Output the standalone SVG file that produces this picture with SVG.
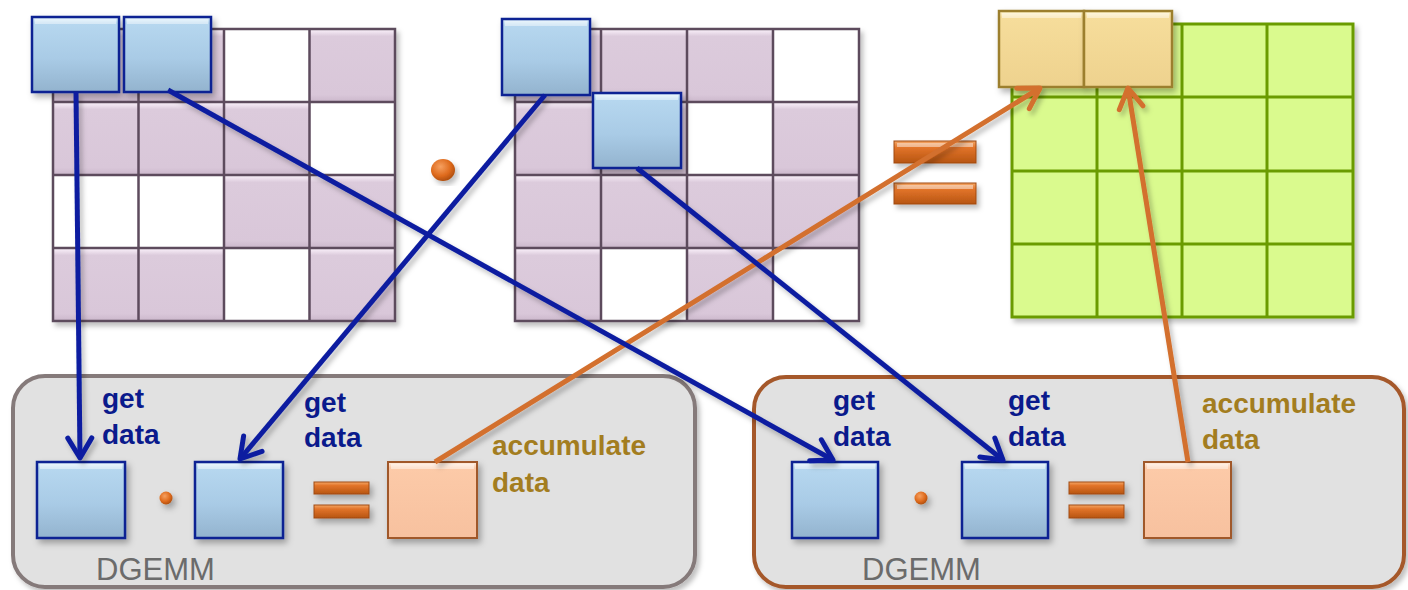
<svg xmlns="http://www.w3.org/2000/svg" width="1408" height="590" viewBox="0 0 1408 590">
  <defs>
    <style>
      .cellP { fill: url(#gPurple); }
      .cellW { fill: #ffffff; }
      .gridA { fill: none; stroke: #5d4b5d; stroke-width: 2.5; }
      .gridC { fill: none; stroke: #6b9b00; stroke-width: 3; }
      .tileB { fill: url(#gBlue); stroke: #0d2493; stroke-width: 2.5; }
      .tileT { fill: url(#gTan); stroke: #9c7f2e; stroke-width: 2.5; }
      .tileP { fill: url(#gPeach); stroke: #a0582c; stroke-width: 2; }
      .bar { fill: url(#gOrange); stroke: #a04a10; stroke-width: 1; }
      .dot { fill: url(#gDot); }
      .hl { fill: #ffffff; opacity: 0.45; }
      .box { fill: #e1e1e1; stroke-width: 4; }
      .lblB { font-family: "Liberation Sans", Arial, sans-serif; font-weight: bold; font-size: 28px; fill: #0a1a8c; }
      .lblA { font-family: "Liberation Sans", Arial, sans-serif; font-weight: bold; font-size: 28px; fill: #a37d1f; }
      .lblD { font-family: "Liberation Sans", Arial, sans-serif; font-size: 31px; fill: #6b6b6b; }
      .conB { fill: none; stroke: #0a1fa0; stroke-width: 5; marker-end: url(#headB); }
      .conO { fill: none; stroke: #d3702e; stroke-width: 5; marker-end: url(#headO); }
    </style>
    <filter id="sh" x="-20%" y="-20%" width="150%" height="150%">
      <feDropShadow dx="3" dy="4" stdDeviation="3" flood-color="#000" flood-opacity="0.3"/>
    </filter>
    <filter id="shL" x="-10%" y="-10%" width="130%" height="130%">
      <feDropShadow dx="3" dy="4" stdDeviation="2.5" flood-color="#000" flood-opacity="0.25"/>
    </filter>
    <linearGradient id="gPurple" x1="0" y1="0" x2="0" y2="1">
      <stop offset="0" stop-color="#fdf4fd"/>
      <stop offset="0.1" stop-color="#dccbdc"/>
      <stop offset="0.9" stop-color="#d9c7d9"/>
      <stop offset="1" stop-color="#cbb7cb"/>
    </linearGradient>
    <linearGradient id="gBlue" x1="0" y1="0" x2="0" y2="1">
      <stop offset="0" stop-color="#e3f3fc"/>
      <stop offset="0.08" stop-color="#b6d7ef"/>
      <stop offset="0.55" stop-color="#a9cbe6"/>
      <stop offset="1" stop-color="#93b3ce"/>
    </linearGradient>
    <linearGradient id="gTan" x1="0" y1="0" x2="0" y2="1">
      <stop offset="0" stop-color="#fff5cf"/>
      <stop offset="0.08" stop-color="#f6dd9b"/>
      <stop offset="1" stop-color="#eed28e"/>
    </linearGradient>
    <linearGradient id="gPeach" x1="0" y1="0" x2="0" y2="1">
      <stop offset="0" stop-color="#fff0e4"/>
      <stop offset="0.08" stop-color="#fccaa8"/>
      <stop offset="1" stop-color="#f7c19f"/>
    </linearGradient>
    <linearGradient id="gOrange" x1="0" y1="0" x2="0" y2="1">
      <stop offset="0" stop-color="#f5a868"/>
      <stop offset="0.3" stop-color="#e2742a"/>
      <stop offset="1" stop-color="#b75512"/>
    </linearGradient>
    <radialGradient id="gDot" cx="0.4" cy="0.35" r="0.7">
      <stop offset="0" stop-color="#f6a060"/>
      <stop offset="0.6" stop-color="#de6a1c"/>
      <stop offset="1" stop-color="#a84a0c"/>
    </radialGradient>
    <marker id="headB" markerUnits="userSpaceOnUse" markerWidth="40" markerHeight="40" viewBox="-30 -20 40 40" refX="0" refY="0" orient="auto" overflow="visible">
      <path d="M-20,-12 L0,0 L-20,12" fill="none" stroke="#0a1fa0" stroke-width="5" stroke-linecap="round" stroke-linejoin="round"/>
    </marker>
    <marker id="headO" markerUnits="userSpaceOnUse" markerWidth="40" markerHeight="40" viewBox="-30 -20 40 40" refX="0" refY="0" orient="auto" overflow="visible">
      <path d="M-20,-12 L0,0 L-20,12" fill="none" stroke="#d3702e" stroke-width="5" stroke-linecap="round" stroke-linejoin="round"/>
    </marker>
  </defs>

  <rect width="1408" height="590" fill="#ffffff"/>

  <!-- left operand matrix -->
  <g id="matrixA" filter="url(#shL)">
    <rect class="cellP" x="53" y="29" width="85.5" height="73"/>
    <rect class="cellP" x="138.5" y="29" width="85.5" height="73"/>
    <rect class="cellW" x="224" y="29" width="85.5" height="73"/>
    <rect class="cellP" x="309.5" y="29" width="85.5" height="73"/>
    <rect class="cellP" x="53" y="102" width="85.5" height="73"/>
    <rect class="cellP" x="138.5" y="102" width="85.5" height="73"/>
    <rect class="cellP" x="224" y="102" width="85.5" height="73"/>
    <rect class="cellW" x="309.5" y="102" width="85.5" height="73"/>
    <rect class="cellW" x="53" y="175" width="85.5" height="73"/>
    <rect class="cellW" x="138.5" y="175" width="85.5" height="73"/>
    <rect class="cellP" x="224" y="175" width="85.5" height="73"/>
    <rect class="cellP" x="309.5" y="175" width="85.5" height="73"/>
    <rect class="cellP" x="53" y="248" width="85.5" height="73"/>
    <rect class="cellP" x="138.5" y="248" width="85.5" height="73"/>
    <rect class="cellW" x="224" y="248" width="85.5" height="73"/>
    <rect class="cellP" x="309.5" y="248" width="85.5" height="73"/>
    <path class="gridA" d="M53,29 H395 V321 H53 Z M138.5,29 V321 M224,29 V321 M309.5,29 V321 M53,102 H395 M53,175 H395 M53,248 H395"/>
  </g>

  <!-- right operand matrix -->
  <g id="matrixB" filter="url(#shL)">
    <rect class="cellP" x="515" y="29" width="86" height="73"/>
    <rect class="cellP" x="601" y="29" width="86" height="73"/>
    <rect class="cellP" x="687" y="29" width="86" height="73"/>
    <rect class="cellW" x="773" y="29" width="86" height="73"/>
    <rect class="cellP" x="515" y="102" width="86" height="73"/>
    <rect class="cellP" x="601" y="102" width="86" height="73"/>
    <rect class="cellW" x="687" y="102" width="86" height="73"/>
    <rect class="cellP" x="773" y="102" width="86" height="73"/>
    <rect class="cellP" x="515" y="175" width="86" height="73"/>
    <rect class="cellP" x="601" y="175" width="86" height="73"/>
    <rect class="cellP" x="687" y="175" width="86" height="73"/>
    <rect class="cellP" x="773" y="175" width="86" height="73"/>
    <rect class="cellP" x="515" y="248" width="86" height="73"/>
    <rect class="cellW" x="601" y="248" width="86" height="73"/>
    <rect class="cellP" x="687" y="248" width="86" height="73"/>
    <rect class="cellW" x="773" y="248" width="86" height="73"/>
    <path class="gridA" d="M515,29 H859 V321 H515 Z M601,29 V321 M687,29 V321 M773,29 V321 M515,102 H859 M515,175 H859 M515,248 H859"/>
  </g>

  <!-- result matrix -->
  <g id="matrixC" filter="url(#shL)">
    <rect x="1012" y="24" width="341" height="293" fill="#dafa8e"/>
    <path class="gridC" d="M1012,24 H1353 V317 H1012 Z M1097,24 V317 M1182,24 V317 M1267,24 V317 M1012,97 H1353 M1012,171 H1353 M1012,244 H1353"/>
  </g>

  <!-- product operator and equals sign between matrices -->
  <g id="opDot" filter="url(#shL)">
    <ellipse class="dot" cx="443" cy="170" rx="12" ry="11"/>
  </g>
  <g id="opEquals" filter="url(#shL)">
    <rect class="bar" x="894" y="141" width="82" height="22"/>
    <rect class="hl" x="897" y="143" width="76" height="4"/>
    <rect class="bar" x="894" y="183" width="82" height="21"/>
    <rect class="hl" x="897" y="185" width="76" height="4"/>
  </g>

  <!-- blocks being fetched -->
  <g id="blockA1" filter="url(#sh)">
    <rect class="tileB" x="32" y="17" width="87" height="75"/>
    <rect class="hl" x="35" y="19" width="81" height="5"/>
  </g>
  <g id="blockA2" filter="url(#sh)">
    <rect class="tileB" x="124" y="17" width="87" height="75"/>
    <rect class="hl" x="127" y="19" width="81" height="5"/>
  </g>
  <g id="blockB1" filter="url(#sh)">
    <rect class="tileB" x="502" y="19" width="88" height="76"/>
    <rect class="hl" x="505" y="21" width="82" height="5"/>
  </g>
  <g id="blockB2" filter="url(#sh)">
    <rect class="tileB" x="593" y="93" width="88" height="75"/>
    <rect class="hl" x="596" y="95" width="82" height="5"/>
  </g>
  <g id="blockC1" filter="url(#sh)">
    <rect class="tileT" x="999" y="11" width="85" height="76"/>
    <rect class="hl" x="1002" y="13" width="79" height="5"/>
  </g>
  <g id="blockC2" filter="url(#sh)">
    <rect class="tileT" x="1084" y="11" width="88" height="76"/>
    <rect class="hl" x="1087" y="13" width="82" height="5"/>
  </g>

  <!-- first DGEMM worker -->
  <g id="dgemm1">
    <rect class="box" x="13" y="376" width="682" height="211" rx="32" stroke="#857a7a" filter="url(#shL)"/>
    <g filter="url(#sh)">
      <rect class="tileB" x="37" y="462" width="88" height="76"/>
      <rect class="hl" x="40" y="464" width="82" height="5"/>
      <rect class="tileB" x="195" y="462" width="88" height="76"/>
      <rect class="hl" x="198" y="464" width="82" height="5"/>
      <circle class="dot" cx="166" cy="498" r="6.5"/>
      <rect class="bar" x="314" y="482" width="55" height="12"/>
      <rect class="bar" x="314" y="505" width="55" height="13"/>
      <rect class="tileP" x="388" y="462" width="89" height="76"/>
      <rect class="hl" x="391" y="464" width="83" height="5"/>
    </g>
    <text class="lblB" x="102" y="408">get</text>
    <text class="lblB" x="102" y="444">data</text>
    <text class="lblB" x="304" y="412">get</text>
    <text class="lblB" x="304" y="447">data</text>
    <text class="lblA" x="492" y="455">accumulate</text>
    <text class="lblA" x="492" y="492">data</text>
    <text class="lblD" x="96" y="580">DGEMM</text>
  </g>

  <!-- second DGEMM worker -->
  <g id="dgemm2">
    <rect class="box" x="754" y="377" width="650" height="210" rx="32" stroke="#a5582a" filter="url(#shL)"/>
    <g filter="url(#sh)">
      <rect class="tileB" x="792" y="462" width="86" height="76"/>
      <rect class="hl" x="795" y="464" width="80" height="5"/>
      <rect class="tileB" x="962" y="462" width="86" height="76"/>
      <rect class="hl" x="965" y="464" width="80" height="5"/>
      <circle class="dot" cx="921" cy="498" r="6.5"/>
      <rect class="bar" x="1069" y="482" width="55" height="12"/>
      <rect class="bar" x="1069" y="505" width="55" height="13"/>
      <rect class="tileP" x="1144" y="462" width="87" height="76"/>
      <rect class="hl" x="1147" y="464" width="81" height="5"/>
    </g>
    <text class="lblB" x="833" y="410">get</text>
    <text class="lblB" x="833" y="446">data</text>
    <text class="lblB" x="1008" y="410">get</text>
    <text class="lblB" x="1008" y="446">data</text>
    <text class="lblA" x="1202" y="413">accumulate</text>
    <text class="lblA" x="1202" y="449">data</text>
    <text class="lblD" x="862" y="580">DGEMM</text>
  </g>

  <!-- data movement -->
  <g id="connectors" filter="url(#shL)">
    <path class="conO" d="M435,462 L1040,88"/>
    <path class="conO" d="M1188,462 L1128,88"/>
    <path class="conB" d="M76,92 L80,458"/>
    <path class="conB" d="M168,90 L833,460"/>
    <path class="conB" d="M545,95 L240,459"/>
    <path class="conB" d="M637,168 L1003,460"/>
  </g>
</svg>
